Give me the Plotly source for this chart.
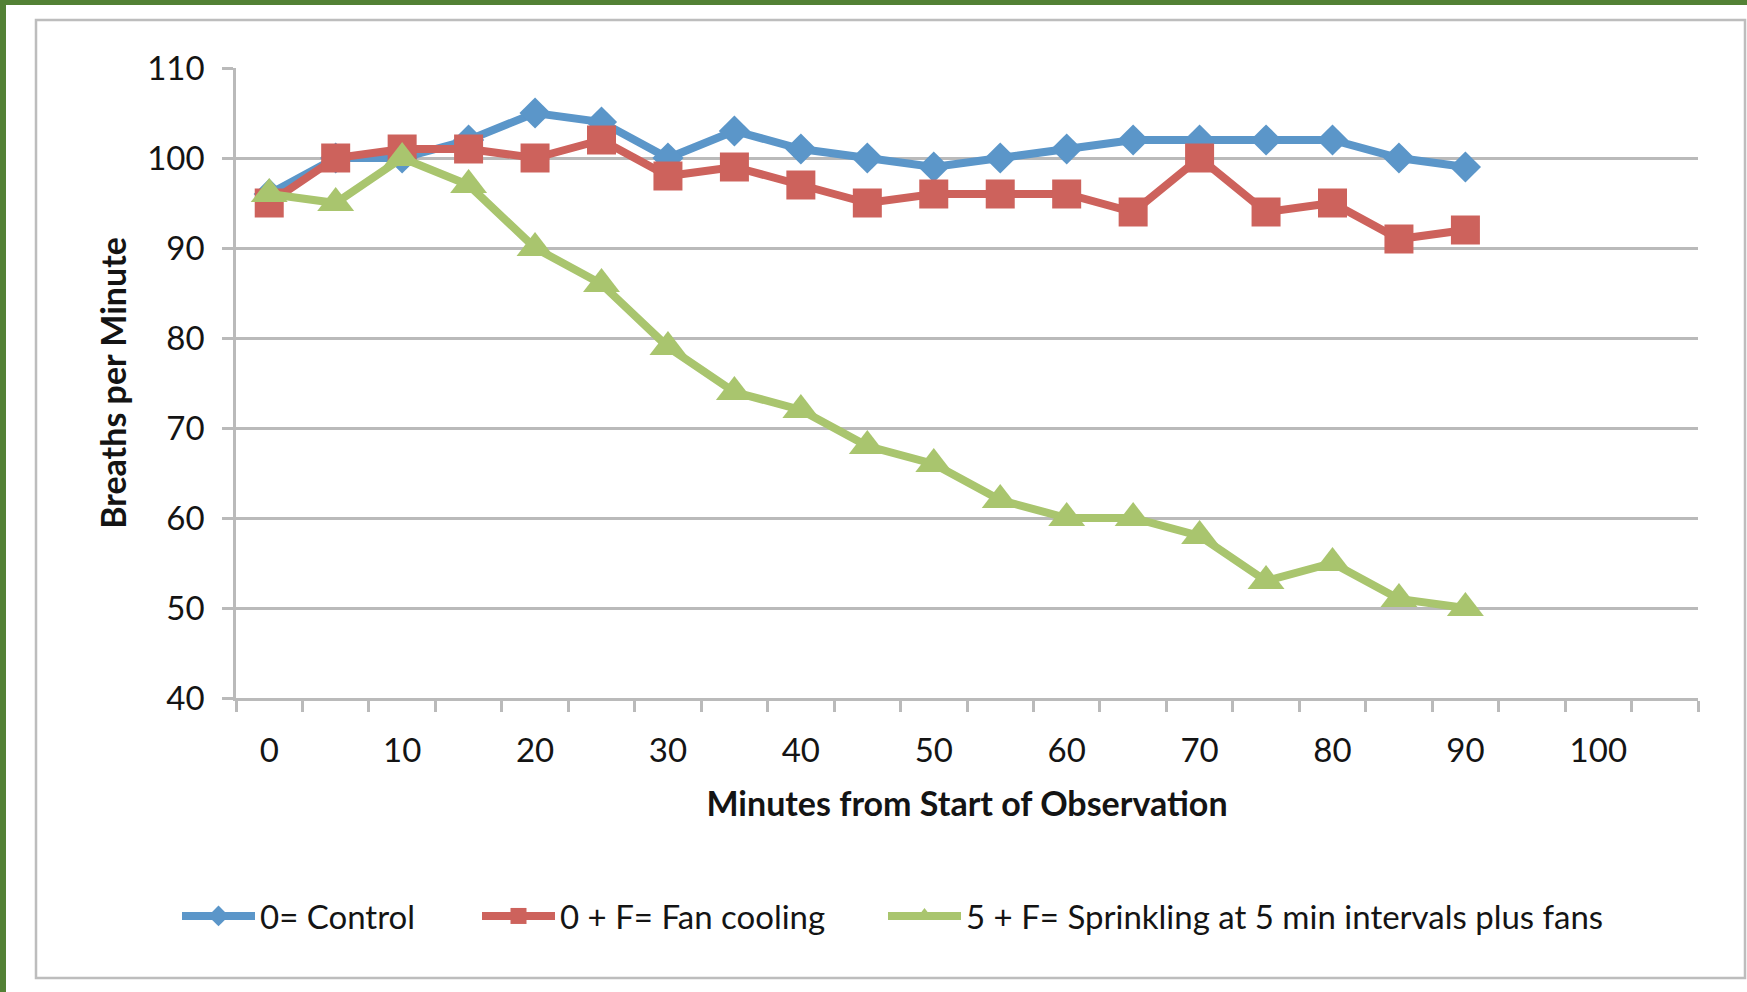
import plotly.graph_objects as go

# ---- data ----
minutes = [0, 5, 10, 15, 20, 25, 30, 35, 40, 45, 50, 55, 60, 65, 70, 75, 80, 85, 90]
control = [96, 100, 100, 102, 105, 104, 100, 103, 101, 100, 99, 100, 101, 102, 102, 102, 102, 100, 99]
fan_cooling = [95, 100, 101, 101, 100, 102, 98, 99, 97, 95, 96, 96, 96, 94, 100, 94, 95, 91, 92]
sprinkling = [96, 95, 100, 97, 90, 86, 79, 74, 72, 68, 66, 62, 60, 60, 58, 53, 55, 51, 50]
series_names = ["0= Control", "0 + F= Fan cooling", "5 + F= Sprinkling at 5 min intervals plus fans"]
x_tick_values = [0, 10, 20, 30, 40, 50, 60, 70, 80, 90, 100]
y_tick_values = [40, 50, 60, 70, 80, 90, 100, 110]

# ---- layout constants (pixels) ----
W, H = 1747, 992
PL, PR, PT, PB = 236, 1698, 68, 698  # plot area
FONT = "Lato"
TXT = "#141414"
GRID = "#BABABA"

def px_x(p):
    return (p - PL) / (PR - PL)

def px_y(p):
    return (PB - p) / (PB - PT)

colors = ["#5B96C9", "#CD625C", "#A9C56E"]
symbols = ["diamond", "square", "triangle-up"]
sizes = [24, 29, 32]
legend_ids = ["legend", "legend2", "legend3"]
legend_left_px = [177, 477, 883]

fig = go.Figure()
for name, ys, c, s, sz, lg in zip(series_names, [control, fan_cooling, sprinkling],
                                  colors, symbols, sizes, legend_ids):
    fig.add_trace(go.Scatter(
        x=minutes, y=ys, mode="lines+markers", name=name, legend=lg,
        line=dict(color=c, width=8),
        marker=dict(symbol=s, size=sz, color=c, line=dict(width=0)),
    ))

shapes = [
    # chart frame
    dict(type="rect", xref="paper", yref="paper",
         x0=px_x(36), x1=px_x(1745), y0=px_y(20), y1=px_y(978),
         line=dict(color="#BDBDBD", width=2.5), fillcolor="rgba(0,0,0,0)", layer="below"),
    # green border bands
    dict(type="rect", xref="paper", yref="paper",
         x0=px_x(0), x1=px_x(W), y0=px_y(0), y1=px_y(5),
         line=dict(width=0), fillcolor="#538135", layer="above"),
    dict(type="rect", xref="paper", yref="paper",
         x0=px_x(0), x1=px_x(6), y0=px_y(0), y1=px_y(H),
         line=dict(width=0), fillcolor="#538135", layer="above"),
]

def make_legend(left_px):
    return dict(
        orientation="h", x=px_x(left_px), y=px_y(916), xanchor="left", yanchor="middle",
        font=dict(family=FONT, size=33, color=TXT), itemwidth=73,
        bgcolor="rgba(0,0,0,0)",
    )

fig.update_layout(
    width=W, height=H,
    margin=dict(l=PL, r=W - PR, t=PT, b=H - PB, autoexpand=False),
    paper_bgcolor="white", plot_bgcolor="white",
    font=dict(family=FONT, color=TXT, size=33),
    shapes=shapes,
    showlegend=True,
    legend=make_legend(legend_left_px[0]),
    legend2=make_legend(legend_left_px[1]),
    legend3=make_legend(legend_left_px[2]),
    xaxis=dict(
        range=[-2.5, 107.5], tickmode="array", tickvals=x_tick_values,
        ticks="", showgrid=False, zeroline=False,
        showline=True, linecolor=GRID, linewidth=2.5,
        tickfont=dict(family=FONT, size=33, color=TXT), ticklabelstandoff=22,
        minor=dict(tick0=-2.5, dtick=5, ticks="outside", ticklen=11, tickwidth=2.5,
                   tickcolor=GRID, showgrid=False),
        title=dict(text="<b>Minutes from Start of Observation</b>",
                   font=dict(family=FONT, size=34, color=TXT), standoff=24),
        automargin=False,
    ),
    yaxis=dict(
        range=[40, 110], tickmode="array", tickvals=y_tick_values,
        ticks="outside", ticklen=11, tickwidth=2.5, tickcolor=GRID,
        showgrid=True, gridcolor=GRID, gridwidth=2.5, zeroline=False,
        showline=True, linecolor=GRID, linewidth=2.5,
        tickfont=dict(family=FONT, size=33, color=TXT), ticklabelstandoff=11,
        title=dict(text="<b>Breaths per Minute</b>",
                   font=dict(family=FONT, size=34, color=TXT), standoff=11),
        automargin=False,
    ),
)

fig.write_html("out.html")
